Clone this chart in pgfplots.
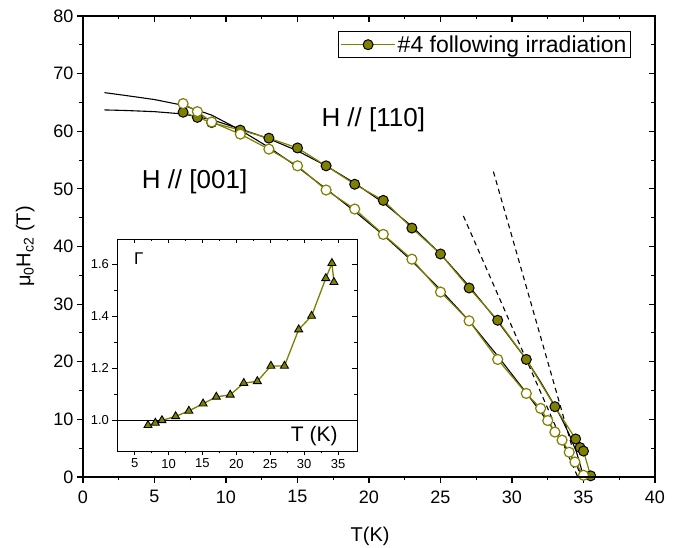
\documentclass[border=0pt]{standalone}
\usepackage{fontspec}
\setmainfont{Liberation Sans}
\usepackage{pgfplots}
\pgfplotsset{compat=1.18}
\definecolor{myolive}{RGB}{128,128,0}

\pgfplotstableread{
T H
7.0 63.3
8.0 62.4
9.0 61.5
11.0 60.2
13.0 58.8
15.0 57.1
17.0 54.0
19.0 50.8
21.0 48.0
23.0 43.2
25.0 38.7
27.0 32.8
29.0 27.2
31.0 20.4
33.0 12.2
34.45 6.6
34.76 5.1
35.0 4.5
35.5 0.2
}\filled

\pgfplotstableread{
T H
7.0 64.8
8.0 63.4
9.0 61.6
11.0 59.5
13.0 56.9
15.0 54.0
17.0 49.8
19.0 46.5
21.0 42.1
23.0 37.8
25.0 32.1
27.0 27.1
29.0 20.4
31.0 14.5
32.0 11.9
32.5 9.8
33.0 7.8
33.5 6.4
34.0 4.3
34.4 2.6
35.0 0.3
}\hollow

\pgfplotstableread{
T G
6.97 0.981
8.05 0.990
9.03 1.000
11.05 1.015
13.0 1.036
15.1 1.064
17.05 1.090
19.1 1.098
21.1 1.143
23.1 1.150
25.1 1.209
27.1 1.209
29.2 1.349
31.1 1.401
33.2 1.546
34.1 1.604
34.4 1.531
}\gamma

\begin{document}
\begin{tikzpicture}
\path[use as bounding box] (-83pt,-71pt) rectangle (606pt,477pt);
% main axis
\begin{axis}[
  at={(0pt,0pt)}, anchor=south west, scale only axis,
  width=572pt, height=461pt,
  xmin=0, xmax=40, ymin=0, ymax=80,
  xtick={0,5,...,40}, ytick={0,10,...,80},
  minor x tick num=1, minor y tick num=1,
  xtick pos=left, ytick pos=left, tick align=outside,
  major tick length=6pt, minor tick length=3.5pt,
  axis line style={line width=1.1pt},
  every tick/.style={black, line width=1.1pt},
  /pgf/number format/assume math mode=true,
  ticklabel style={font=\fontsize{18}{20}\selectfont},
  xticklabel style={yshift=-4pt},
  xlabel={T(K)}, ylabel={μ\textsubscript{0}H\textsubscript{c2} (T)},
  xlabel style={font=\fontsize{20}{22}\selectfont, at={(axis description cs:0.502,-0.128)}, anchor=center},
  ylabel style={font=\fontsize{20}{22}\selectfont, at={(axis description cs:-0.101,0.5)}, anchor=center},
  legend style={at={(axis description cs:0.958,0.967)}, anchor=north east,
    font=\fontsize{23}{25}\selectfont, draw=black, line width=0.8pt,
    inner xsep=2pt, inner ysep=2pt, cells={anchor=west}},
  legend image code/.code={\draw[mark repeat=2, mark phase=2] plot coordinates {(0pt,0pt) (27pt,0pt) (54pt,0pt)};},
  clip=false,
]
% fits
\addplot[black, line width=1.1pt, forget plot] coordinates {
(1.5,63.7)(3,63.6)(5,63.4)(7,63.0)(9,62.0)(11,60.4)(13,58.7)(15,56.6)(17,54.0)(19,51.0)(21,47.6)(23,43.5)(25,38.7)(27,33.1)(29,27.0)(31,20.4)(32,16.5)(33,12.3)(33.5,10.0)(34,7.4)(34.5,4.4)(34.9,1.0)(35.0,0)};
\addplot[black, line width=1.1pt, forget plot] coordinates {
(1.5,66.7)(3,66.2)(5,65.5)(7,64.5)(9,62.8)(11,60.2)(13,57.2)(15,53.8)(17,50.0)(19,46.1)(21,42.0)(23,37.5)(25,32.5)(27,27.1)(29,21.0)(31,14.6)(32,11.3)(33,7.9)(34,4.2)(34.6,1.6)(34.9,0)};
% tangents
\addplot[black, line width=1.1pt, dash pattern=on 5pt off 4pt, forget plot] coordinates {(26.6,45.3)(34.6,0)};
\addplot[black, line width=1.1pt, dash pattern=on 5pt off 4pt, forget plot] coordinates {(28.7,53.0)(34.8,0)};
% data
\addplot[myolive, line width=1.2pt, mark=*, mark size=5pt,
  mark options={fill=myolive, draw=black, line width=1pt, solid}]
  table[x=T, y=H] {\filled};
\addlegendentry{\#4 following irradiation}
\addplot[myolive, line width=1.2pt, mark=*, mark size=5pt,
  mark options={fill=white, draw=myolive, line width=1.2pt, solid}, forget plot]
  table[x=T, y=H] {\hollow};
\node[font=\fontsize{26}{28}\selectfont] at (axis cs:20.3,62.0) {H // [110]};
\node[font=\fontsize{26}{28}\selectfont] at (axis cs:7.8,51.2) {H // [001]};
\end{axis}
% top/right ticks
\begin{axis}[
  at={(0pt,0pt)}, anchor=south west, scale only axis,
  width=572pt, height=461pt,
  xmin=0, xmax=40, ymin=0, ymax=80,
  xtick={0,5,...,40}, ytick={0,10,...,80},
  minor x tick num=1, minor y tick num=1,
  xtick pos=right, ytick pos=right, tick align=inside,
  major tick length=6pt, minor tick length=3.5pt,
  axis line style={line width=1.1pt},
  every tick/.style={black, line width=1.1pt},
  xticklabels={}, yticklabels={},
]
\end{axis}
% inset
\begin{axis}[
  at={(34pt,26pt)}, anchor=south west, scale only axis,
  width=240pt, height=212pt,
  xmin=2.4, xmax=37.8, ymin=0.882, ymax=1.697,
  xtick={5,10,...,35}, ytick={1.0,1.2,1.4,1.6},
  minor x tick num=1, minor y tick num=1,
  xtick pos=left, ytick pos=left, tick align=outside,
  major tick length=4.5pt, minor tick length=2.5pt,
  axis line style={line width=0.9pt},
  every tick/.style={black, line width=0.9pt},
  axis background/.style={fill=white},
  /pgf/number format/assume math mode=true,
  yticklabel style={/pgf/number format/fixed, /pgf/number format/fixed zerofill, /pgf/number format/precision=1},
  ticklabel style={font=\fontsize{13}{15}\selectfont},
  clip=false,
]
\addplot[black, line width=1.1pt] coordinates {(2.4,1.0)(37.8,1.0)};
\addplot[myolive, line width=1.3pt, mark=triangle*, mark size=4.6pt,
  mark options={fill=myolive, draw=black, line width=0.9pt, solid}]
  table[x=T, y=G] {\gamma};
\node[font=\fontsize{17}{19}\selectfont] at (axis cs:5.6,1.62) {Γ};
\node[font=\fontsize{21}{23}\selectfont] at (axis cs:31.5,0.938) {T (K)};
\end{axis}
\begin{axis}[
  at={(34pt,26pt)}, anchor=south west, scale only axis,
  width=240pt, height=212pt,
  xmin=2.4, xmax=37.8, ymin=0.882, ymax=1.697,
  xtick={5,10,...,35}, ytick={1.0,1.2,1.4,1.6},
  minor x tick num=1, minor y tick num=1,
  xtick pos=right, ytick pos=right, tick align=inside,
  major tick length=4.5pt, minor tick length=2.5pt,
  axis line style={line width=0.9pt},
  every tick/.style={black, line width=0.9pt},
  xticklabels={}, yticklabels={},
]
\end{axis}
\end{tikzpicture}
\end{document}
